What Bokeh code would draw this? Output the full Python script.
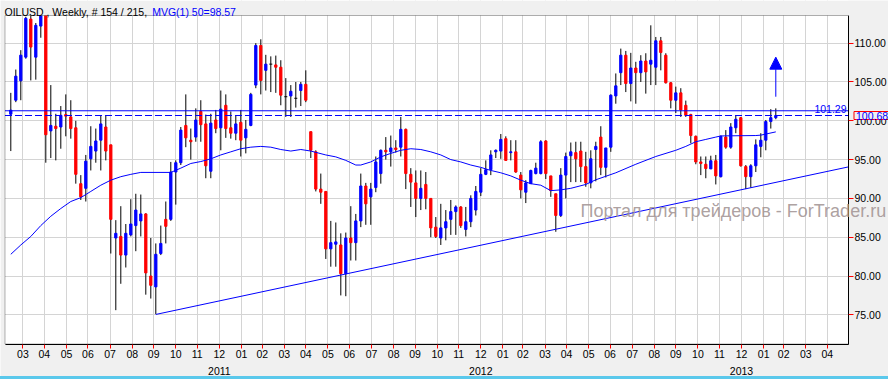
import pandas as pd
from bokeh.plotting import figure
from bokeh.models import (Range1d, FixedTicker, NumeralTickFormatter, Label, BoxAnnotation,
                          Arrow, NormalHead, ColumnDataSource, Div)
from bokeh.layouts import column
from bokeh.embed import file_html
from bokeh.resources import INLINE

FONT = "Liberation Sans"

# ---------------- data (weekly OILUSD candles) ----------------
start = pd.Timestamp("2011-03-14")

opens = [100.85, 102.65, 105.15, 108.2, 113.1, 108.2, 112.2, 114.0, 98.7, 99.3,
         99.2, 100.8, 100.5, 99.1, 91.9, 91.3, 95.1, 96.1, 97.5, 99.2,
         96.9, 84.9, 85.1, 82.7, 85.3, 86.5, 87.1, 88.0, 80.0, 78.6,
         82.9, 87.3, 87.3, 93.4, 94.6, 99.4, 97.5, 97.9, 101.2, 99.6,
         93.5, 100.1, 99.1, 102.0, 99.1, 98.4, 99.8, 97.8, 99.4, 104.6,
         109.7, 106.5, 107.3, 107.2, 106.9, 103.1, 103.2, 102.9, 103.9, 104.7,
         98.6, 96.0, 91.2, 90.9, 83.5, 84.1, 84.0, 80.3, 84.9, 84.3,
         87.1, 91.6, 90.2, 91.4, 93.2, 96.2, 96.0, 96.5, 96.6, 98.9,
         93.1, 92.0, 90.0, 91.8, 90.0, 86.3, 84.9, 86.2, 87.3, 88.3,
         88.9, 86.0, 87.0, 88.5, 90.8, 93.1, 93.7, 96.0, 96.1, 97.7,
         95.9, 96.0, 93.0, 90.8, 91.9, 93.2, 93.2, 97.4, 92.9, 90.6,
         87.8, 93.0, 95.5, 95.9, 96.1, 94.1, 92.0, 96.3, 97.9, 94.0,
         96.6, 103.2, 106.2, 108.45, 104.8, 106.8, 106.2, 107.7, 107.3, 106.9,
         110.3, 108.45, 104.9, 102.65, 103.6, 102.0, 100.8, 98.0, 94.7, 94.4,
         93.8, 94.85, 92.8, 97.9, 96.6, 99.1, 100.4, 94.1, 92.8, 94.2,
         96.7, 97.5, 99.9, 100.4]

highs = [103.6, 106.6, 109.1, 113.4, 113.6, 112.6, 114.8, 114.8, 104.6, 100.9,
         101.9, 103.4, 102.65, 100.0, 93.0, 95.6, 99.3, 99.0, 100.7, 100.7,
         96.9, 87.2, 89.0, 86.7, 89.9, 90.6, 90.5, 88.1, 84.9, 84.2,
         86.5, 89.6, 94.7, 94.9, 99.2, 103.4, 99.0, 101.6, 102.65, 100.8,
         100.9, 101.4, 103.9, 103.4, 101.2, 100.7, 101.4, 100.1, 103.6, 110.0,
         110.5, 108.5, 108.3, 108.4, 107.8, 105.5, 104.6, 105.0, 105.0, 106.5,
         98.6, 96.2, 93.2, 90.9, 87.1, 86.9, 85.5, 85.6, 89.0, 88.0,
         93.2, 92.0, 92.0, 95.4, 96.3, 97.9, 98.1, 97.5, 100.5, 99.0,
         93.9, 93.6, 93.6, 93.4, 90.0, 87.6, 89.3, 88.5, 89.8, 89.1,
         89.0, 88.9, 90.4, 91.6, 93.9, 94.9, 96.2, 96.3, 98.3, 98.0,
         97.5, 97.5, 93.4, 92.35, 93.7, 94.6, 97.5, 97.5, 92.9, 90.6,
         93.9, 95.9, 97.2, 97.3, 97.3, 96.0, 96.2, 97.3, 99.3, 96.5,
         103.4, 106.1, 109.3, 109.0, 108.75, 107.6, 108.45, 108.7, 112.3, 110.8,
         110.8, 108.7, 105.0, 104.4, 104.2, 102.6, 100.9, 98.1, 95.4, 95.4,
         95.5, 95.6, 98.1, 98.8, 99.7, 100.7, 100.5, 94.3, 94.4, 97.6,
         98.4, 100.1, 101.5, 101.6]

lows = [96.1, 102.4, 102.65, 108.0, 105.2, 105.3, 110.7, 94.6, 95.2, 94.9,
        96.4, 98.0, 97.7, 91.9, 89.8, 89.6, 93.6, 94.6, 93.6, 94.9,
        82.9, 75.6, 79.0, 81.1, 85.1, 83.2, 85.1, 77.6, 77.1, 75.1,
        82.7, 84.2, 87.1, 89.2, 94.3, 96.6, 95.0, 97.3, 97.3, 92.6,
        92.6, 98.4, 96.2, 97.8, 97.7, 97.5, 95.4, 95.8, 99.3, 104.2,
        103.4, 103.9, 103.7, 103.6, 102.0, 100.5, 100.5, 101.7, 101.9, 102.4,
        95.2, 90.9, 89.3, 82.2, 81.2, 81.2, 77.5, 77.4, 82.0, 82.0,
        86.3, 86.6, 86.6, 90.8, 91.9, 95.0, 94.1, 95.9, 95.4, 91.2,
        88.9, 87.6, 88.5, 88.6, 85.0, 84.9, 84.0, 84.6, 85.3, 85.3,
        86.2, 85.1, 86.3, 87.8, 90.3, 93.0, 93.0, 95.2, 95.1, 94.9,
        94.9, 93.3, 90.0, 89.4, 91.9, 93.1, 93.1, 92.5, 90.2, 85.7,
        87.6, 90.0, 92.1, 92.1, 92.1, 91.5, 91.3, 92.2, 93.0, 92.7,
        96.0, 102.2, 104.6, 103.7, 102.5, 102.2, 105.0, 103.5, 104.6, 104.6,
        106.5, 104.8, 101.6, 101.0, 100.5, 100.5, 97.1, 94.4, 93.0, 92.6,
        93.8, 91.8, 92.7, 96.4, 96.4, 98.4, 94.1, 91.2, 91.4, 93.4,
        95.3, 96.2, 99.0, 100.2]

closes = [101.37, 105.75, 108.45, 113.2, 109.5, 112.3, 114.0, 98.2, 99.4, 99.0,
          100.7, 100.6, 99.0, 93.1, 90.2, 94.8, 96.7, 97.4, 99.6, 96.1,
          87.3, 85.5, 82.7, 85.5, 86.7, 88.5, 88.0, 80.4, 78.8, 82.8,
          84.2, 86.4, 93.4, 94.6, 98.8, 97.8, 97.3, 100.1, 99.5, 94.2,
          99.7, 99.0, 101.5, 99.0, 98.4, 99.6, 97.5, 98.9, 103.4, 109.7,
          105.2, 107.3, 107.3, 106.9, 103.3, 103.1, 103.8, 102.9, 104.7, 102.65,
          96.2, 91.2, 90.8, 83.5, 84.3, 84.4, 80.3, 84.9, 84.3, 87.1,
          91.6, 89.3, 91.2, 94.7, 96.2, 96.0, 96.5, 96.3, 98.9, 93.2,
          92.1, 90.0, 91.3, 90.0, 86.2, 85.1, 86.2, 87.0, 88.3, 88.9,
          86.5, 87.0, 90.0, 90.9, 93.1, 93.7, 95.6, 96.2, 97.6, 94.9,
          96.0, 93.4, 91.1, 92.0, 93.6, 93.9, 97.3, 93.2, 91.0, 87.8,
          93.0, 95.4, 96.0, 95.1, 94.1, 92.0, 95.1, 96.7, 94.0, 96.5,
          103.3, 104.5, 108.45, 104.8, 106.8, 106.2, 107.7, 106.3, 107.8, 110.3,
          108.8, 104.9, 102.65, 103.6, 101.4, 100.7, 98.1, 94.7, 94.5, 93.85,
          94.85, 92.9, 98.0, 96.6, 99.2, 100.2, 94.2, 92.8, 94.2, 96.9,
          97.5, 99.9, 100.4, 100.68]

# 50-period moving average, read as points (candle index, value)
ma_idx = [0, 2, 4, 6, 8, 10, 12, 14, 16, 18, 20, 22, 24, 26, 32, 34, 36, 38, 40, 42,
          44, 46, 48, 50, 52, 54, 56, 58, 60, 63, 65, 67, 69, 70, 72, 74, 76, 78, 80, 82,
          84, 86, 88, 90, 92, 94, 96, 98, 100, 102, 104, 106, 108, 110, 112, 115, 117, 121,
          125, 129, 133, 135, 137, 139, 141, 142, 149, 150, 153]
ma_val = [82.8, 84.0, 85.1, 86.5, 87.7, 88.7, 89.6, 90.1, 90.9, 91.7, 92.35, 92.8, 93.1,
          93.35, 93.35, 93.9, 94.5, 94.75, 95.1, 95.6, 96.0, 96.4, 96.6, 96.7, 96.6, 96.3,
          96.1, 96.3, 96.1, 95.6, 95.35, 94.9, 94.3, 94.3, 94.7, 95.35, 95.8, 96.2, 96.4,
          96.3, 96.0, 95.6, 95.0, 94.7, 94.3, 94.0, 93.6, 93.3, 92.9, 92.35, 91.9, 91.7,
          91.0, 91.1, 91.3, 91.8, 92.4, 93.3, 94.4, 95.4, 96.2, 96.7, 97.3, 97.6, 97.9,
          98.05, 98.1, 98.15, 98.57]

# support trend line: from the candle-29 low to the right edge of the chart
trend_idx = [29, 167.53]
trend_val = [75.05, 94.06]

resistance = 101.29
last_price = closes[-1]
arrow_from, arrow_to = 103.1, 108.2

price_ticks = [75, 80, 85, 90, 95, 100, 105, 110]
month_starts = pd.date_range("2011-04-01", "2014-05-01", freq="MS")
month_ticks = [int((m - start).days) - 1 for m in month_starts]
month_labels = ["%02d" % (m - pd.Timedelta(days=1)).month for m in month_starts]
year_ticks = [int((pd.Timestamp(y + 1, 1, 1) - start).days) - 1 for y in (2011, 2012, 2013)]
year_labels = ["2011", "2012", "2013"]

# ---------------- layout constants (pixels of the 888x376 canvas) ----------------
W, H = 888, 376
PX_PER_DAY = 5.0 / 7.0           # one weekly candle every 5 px
X0_PX = 10.3                     # pixel of the first candle
Y110_PX, PX_PER_UNIT = 42.67, 7.762


def dx(px):
    return (px - X0_PX) / PX_PER_DAY


def py(pyx):
    return 110 - (pyx - Y110_PX) / PX_PER_UNIT


plot_left, plot_right = dx(4.5), dx(848)
plot_top, plot_bottom = py(15), py(343.5)
GRAY = "#F0F0F0"
BLUE = "#0000FF"

weeks = pd.date_range(start, periods=len(opens), freq="7D")
xs = [int((d - start).days) for d in weeks]
day = 7.0

up = dict(x=[], top=[], bottom=[])
dn = dict(x=[], top=[], bottom=[])
dj = dict(x0=[], x1=[], y=[])
for xv, o, c in zip(xs, opens, closes):
    if c > o:
        up["x"].append(xv); up["top"].append(c); up["bottom"].append(o)
    elif c < o:
        dn["x"].append(xv); dn["top"].append(o); dn["bottom"].append(c)
    else:
        dj["x0"].append(xv - 0.3 * day); dj["x1"].append(xv + 0.3 * day); dj["y"].append(o)

p = figure(x_range=Range1d(dx(0), dx(W)), y_range=Range1d(py(H), py(0)),
           frame_width=W, frame_height=H,
           min_border_left=0, min_border_right=0, min_border_top=0, min_border_bottom=0,
           y_axis_location="right", output_backend="svg", toolbar_location=None,
           background_fill_color="white", border_fill_color=GRAY,
           outline_line_color=None, title=None)

# grids
p.xgrid.ticker = FixedTicker(ticks=month_ticks)
p.ygrid.ticker = FixedTicker(ticks=price_ticks)
p.xgrid.grid_line_color = "#D4D4D4"
p.ygrid.grid_line_color = "#D4D4D4"

# gray margins around the white plot area (cover grid lines outside it)
x_lo, x_hi = dx(0), dx(W)
y_lo, y_hi = py(H), py(0)
for l, r, b, t in [(x_lo, x_hi, y_lo, plot_bottom), (x_lo, plot_left, y_lo, y_hi),
                   (plot_right, x_hi, y_lo, y_hi)]:
    p.add_layout(BoxAnnotation(left=l, right=r, bottom=b, top=t, fill_color=GRAY, fill_alpha=1,
                               line_color=None, level="underlay"))

# axes (drawn at the edges of the plot area)
yax = p.yaxis[0]
yax.fixed_location = plot_right
yax.bounds = (plot_bottom, plot_top)
yax.ticker = FixedTicker(ticks=price_ticks)
yax.formatter = NumeralTickFormatter(format="0.00")
yax.major_tick_line_color = "red"
yax.major_tick_out = 5
yax.major_tick_in = 0
yax.minor_tick_line_color = None
yax.axis_line_color = "black"
yax.major_label_text_font = FONT
yax.major_label_text_font_size = "10.5px"
yax.major_label_text_color = "black"
yax.major_label_standoff = 1

xax = p.xaxis[0]
xax.fixed_location = plot_bottom
xax.bounds = (plot_left, plot_right)
xax.ticker = FixedTicker(ticks=month_ticks)
xax.major_label_overrides = {t: l for t, l in zip(month_ticks, month_labels)}
xax.major_tick_line_color = "red"
xax.major_tick_out = 4
xax.major_tick_in = 0
xax.minor_tick_line_color = None
xax.axis_line_color = "black"
xax.major_label_text_font = FONT
xax.major_label_text_font_size = "10.5px"
xax.major_label_text_color = "black"
xax.major_label_standoff = 2

# candles
p.segment(x0=xs, y0=highs, x1=xs, y1=lows, line_color="black", line_width=1)
p.vbar(x="x", top="top", bottom="bottom", width=0.45 * day, source=ColumnDataSource(up),
       fill_color=BLUE, line_color=BLUE, line_width=1)
p.vbar(x="x", top="top", bottom="bottom", width=0.45 * day, source=ColumnDataSource(dn),
       fill_color="#FF0000", line_color="#FF0000", line_width=1)
p.segment(x0="x0", y0="y", x1="x1", y1="y", source=ColumnDataSource(dj),
          line_color="black", line_width=1)

# indicator lines
p.line([i * day for i in ma_idx], ma_val, line_color=BLUE, line_width=1)
p.line([i * day for i in trend_idx], trend_val, line_color=BLUE, line_width=1)
p.line([plot_left, plot_right], [resistance, resistance], line_color=BLUE, line_width=1)
p.line([plot_left, plot_right], [last_price, last_price], line_color=BLUE, line_width=1,
       line_dash="7 3")

p.add_layout(Arrow(end=NormalHead(size=12, fill_color=BLUE, line_color=BLUE),
                   x_start=xs[-1], y_start=arrow_from, x_end=xs[-1], y_end=arrow_to,
                   line_color=BLUE, line_width=1))

# top margin drawn over candles that leave the plot area, then the plot border
p.add_layout(BoxAnnotation(left=x_lo, right=x_hi, bottom=plot_top, top=y_hi, fill_color=GRAY,
                           fill_alpha=1, line_color=None, level="annotation"))
p.add_layout(BoxAnnotation(left=plot_left, right=plot_right, bottom=plot_bottom, top=plot_top,
                           fill_color=None, fill_alpha=0, line_color="black", line_width=1,
                           level="annotation"))

# texts
p.add_layout(Label(x=846, y=resistance, x_units="screen", y_units="data", text="%.2f" % resistance,
                   text_align="right", text_baseline="alphabetic", y_offset=2,
                   text_font=FONT, text_font_size="10.5px", text_color=BLUE))
p.add_layout(Label(x=853.5, y=last_price, x_units="screen", y_units="data",
                   text="%.2f" % last_price, text_align="left", text_baseline="middle",
                   text_font=FONT, text_font_size="10.5px", text_color=BLUE,
                   background_fill_color=GRAY, border_line_color="red", border_line_width=1,
                   padding=dict(left=2, right=1, top=0, bottom=0)))

p.add_layout(Label(x=4, y=H - 11.7, x_units="screen", y_units="screen",
                   text="OILUSD , Weekly, # %d / 215," % len(opens),
                   text_baseline="alphabetic", text_font=FONT, text_font_size="10.5px",
                   text_color="black"))
p.add_layout(Label(x=151.7, y=H - 11.7, x_units="screen", y_units="screen",
                   text="MVG(1) 50=%.2f" % ma_val[-1],
                   text_baseline="alphabetic", text_font=FONT, text_font_size="10.5px",
                   text_color=BLUE))

p.add_layout(Label(x=580, y=H - 210.7, x_units="screen", y_units="screen",
                   text="Портал для трейдеров - ForTrader.ru",
                   text_baseline="alphabetic", text_font=FONT, text_font_size="18px",
                   text_color="#A39595", text_alpha=0.9))

for t, l in zip(year_ticks, year_labels):
    p.add_layout(Label(x=t, y=py(370.5), x_units="data", y_units="data", text=l,
                       text_align="center", text_baseline="middle",
                       text_font=FONT, text_font_size="10.5px", text_color="black"))

strip = Div(text="", width=W, height=3, margin=0, styles={"background-color": "#5AC8EB"})
layout = column(p, strip, spacing=0)

open("out.html", "w").write(file_html(layout, INLINE))
